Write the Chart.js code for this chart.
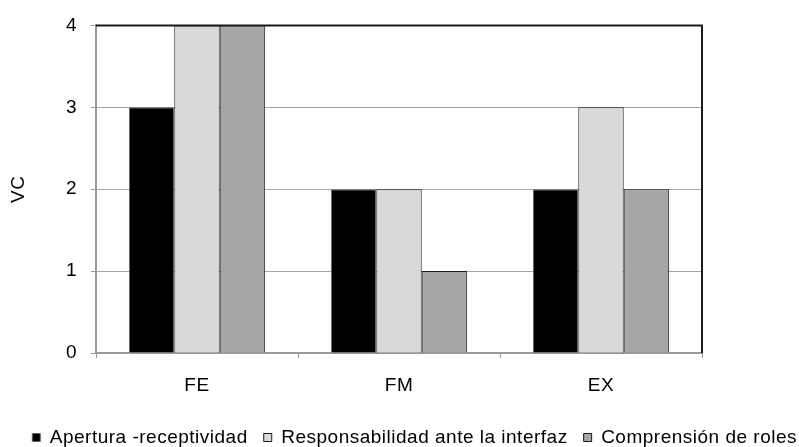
<!DOCTYPE html>
<html lang="es">
<head>
<meta charset="UTF-8">
<title>VC</title>
<script src="https://cdn.jsdelivr.net/npm/chart.js@4.4.1/dist/chart.umd.min.js"></script>
<style>
  html, body { margin: 0; padding: 0; background: #fff; }
  #wrap { width: 799px; height: 447px; }
</style>
</head>
<body>
<div id="wrap"><canvas id="grafico"></canvas></div>
<script>
  // datos
  var categorias = ['FE', 'FM', 'EX'];
  var apertura = [3, 2, 2];
  var responsabilidad = [4, 2, 3];
  var comprension = [4, 1, 2];
  var ticksY = [0, 1, 2, 3, 4];

  var fuente = 'Liberation Sans, Arial, sans-serif';
  Chart.defaults.font.family = fuente;
  Chart.defaults.font.size = 19;
  Chart.defaults.color = '#000';

  var pieBajo = 10;   // la leyenda baja un poco, casi al borde

  // espaciado de letras y marco superior/derecho del area
  var marco = {
    id: 'marco',
    beforeUpdate: function (c) { c.ctx.letterSpacing = '0.5px'; },
    beforeDraw: function (c) { c.ctx.letterSpacing = '0.5px'; },
    afterDatasetsDraw: function (c) {
      var a = c.chartArea, ctx = c.ctx;
      ctx.save();
      ctx.strokeStyle = '#1a1a1a';
      ctx.lineWidth = 2;
      ctx.beginPath();
      ctx.moveTo(a.left, a.top);
      ctx.lineTo(a.right, a.top);
      ctx.lineTo(a.right, a.bottom);
      ctx.stroke();
      ctx.restore();
    }
  };

  var data = {
    labels: categorias,
    datasets: [
      { label: 'Apertura -receptividad', data: apertura, backgroundColor: '#000', borderColor: '#666', borderWidth: 1 },
      { label: 'Responsabilidad ante la interfaz', data: responsabilidad, backgroundColor: '#d9d9d9', borderColor: '#1a1a1a', borderWidth: 1 },
      { label: 'Comprensión de roles', data: comprension, backgroundColor: '#a6a6a6', borderColor: '#1a1a1a', borderWidth: 1 }
    ]
  };

  var config = {
    type: 'bar',
    data: data,
    plugins: [marco],
    options: {
      responsive: true,
      maintainAspectRatio: false,
      animation: false,
      layout: { padding: { top: 20, left: 0, right: -14, bottom: -pieBajo } },
      datasets: { bar: { categoryPercentage: 0.675, barPercentage: 1 } },
      plugins: {
        tooltip: { enabled: false },
        legend: {
          position: 'bottom',
          align: 'end',
          labels: { boxWidth: 8, boxHeight: 8, padding: 16, color: '#000', font: { size: 19 } }
        }
      },
      scales: {
        x: {
          grid: { drawOnChartArea: false, drawTicks: true, tickLength: 5, color: '#999' },
          border: { color: '#999', width: 2 },
          ticks: { padding: 16 },
          afterFit: function (s) { s.height = 447 + pieBajo - 353 - s.chart.legend.height; }
        },
        y: {
          min: 0,
          max: 4,
          afterBuildTicks: function (s) { s.ticks = ticksY.map(function (v) { return { value: v }; }); },
          grid: {
            color: function (c) { return (c.tick && (c.tick.value === 0 || c.tick.value === 4)) ? 'rgba(0,0,0,0)' : '#a6a6a6'; },
            tickColor: '#999',
            tickLength: 5
          },
          border: { color: '#999', width: 2 },
          ticks: { padding: 14 },
          title: { display: true, text: 'VC', padding: { top: 7, bottom: 0 }, font: { size: 19 } },
          afterFit: function (s) { s.width = 96; }
        },
        derecha: {
          position: 'right',
          grid: { display: false },
          border: { display: false },
          ticks: { display: false },
          afterFit: function (s) { s.width = 111; }
        }
      }
    }
  };

  var grafico = new Chart(document.getElementById('grafico'), config);
</script>
</body>
</html>
